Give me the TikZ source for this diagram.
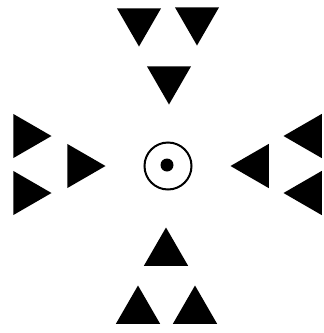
\documentclass[tikz,border=0pt]{standalone}
\usepackage{tikz}
\usetikzlibrary{shapes.geometric}

\begin{document}
\begin{tikzpicture}[x=1pt, y=-1pt,
  tri/.style={regular polygon, regular polygon sides=3, minimum size=51pt,
              inner sep=0pt, fill=black, draw=none},
  pointdown/.style={tri, rotate=180},
  pointup/.style={tri},
  pointright/.style={tri, rotate=-90},
  pointleft/.style={tri, rotate=90},
  ring/.style={circle, draw, line width=2pt, minimum size=47pt, inner sep=0pt},
  dot/.style={circle, fill=black, minimum size=13pt, inner sep=0pt},
]
  \useasboundingbox (0, 0) rectangle (324, 333);

  % centre
  \node[ring] (ring) at (168, 166) {};
  \node[dot] (dot) at (167, 165) {};

  % top
  \node[pointdown] (topl) at (139, 21) {};
  \node[pointdown] (topr) at (197, 20) {};
  \node[pointdown] (topin) at (169, 79) {};

  % left
  \node[pointright] (leftu) at (26, 136) {};
  \node[pointright] (leftd) at (26, 193) {};
  \node[pointright] (leftin) at (80, 166) {};

  % right
  \node[pointleft] (rightin) at (256, 166) {};
  \node[pointleft] (rightu) at (309, 136) {};
  \node[pointleft] (rightd) at (309, 193) {};

  % bottom
  \node[pointup] (botin) at (166, 253) {};
  \node[pointup] (botl) at (138, 311) {};
  \node[pointup] (botr) at (195, 311) {};

\end{tikzpicture}
\end{document}
